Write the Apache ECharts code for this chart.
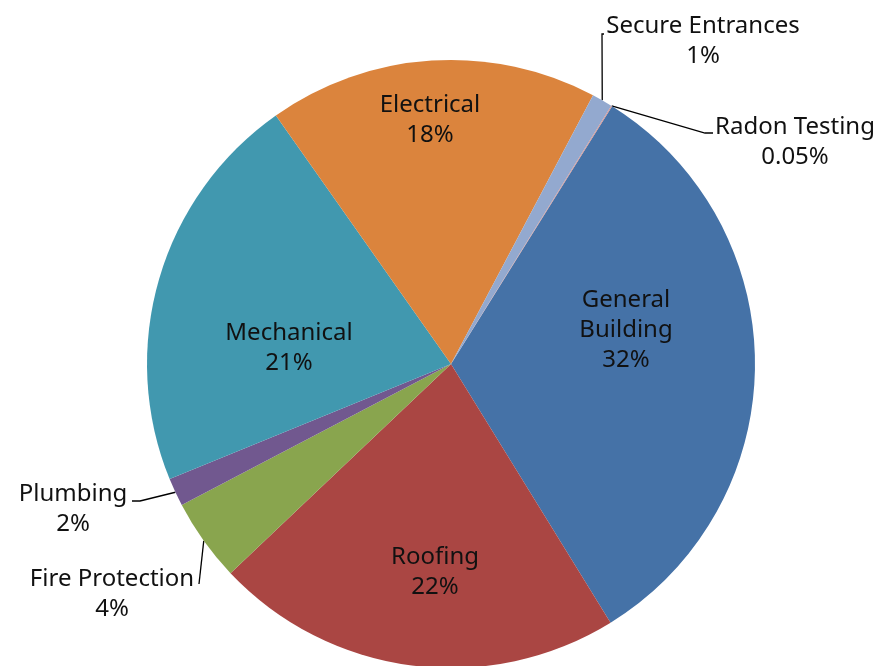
<!DOCTYPE html>
<html>
<head>
<meta charset="utf-8">
<script src="https://cdn.jsdelivr.net/npm/echarts@6/dist/echarts.min.js"></script>
<style>html,body{margin:0;padding:0;background:#fff}#c{width:879px;height:666px}</style>
</head>
<body>
<div id="c"></div>
<script>
const categories = ['General Building','Roofing','Fire Protection','Plumbing','Mechanical','Electrical','Secure Entrances','Radon Testing'];
const values = [32.3, 21.7, 4.4, 1.5, 21.4, 17.5, 1.1, 0.05];
const colors = ['#4572A7','#AA4643','#89A54E','#71588F','#4198AF','#DB843D','#93A9CF','#D19392'];
const outsideLabels = ['Fire Protection','Plumbing','Secure Entrances','Radon Testing'];

// label placement (layout only)
const labelPos = {
  'General Building': [626, 330],
  'Roofing': [435, 572],
  'Fire Protection': [112, 594],
  'Plumbing': [73, 509],
  'Mechanical': [289, 348],
  'Electrical': [430, 120],
  'Secure Entrances': [703, 41],
  'Radon Testing': [795, 142]
};
const lineEnds = {
  'Secure Entrances': [[602, 34], [604, 34]],
  'Radon Testing': [[705, 133], [713, 133]],
  'Plumbing': [[140, 501], [132, 501]],
  'Fire Protection': [[199, 584], [199, 584]]
};

const chart = echarts.init(document.getElementById('c'), null, {renderer: 'canvas'});
const data = categories.map((n, i) => {
  const out = outsideLabels.indexOf(n) >= 0;
  return {
    name: n,
    value: values[i],
    itemStyle: {color: colors[i]},
    label: {position: out ? 'outside' : 'inside'},
    labelLine: {show: out}
  };
});
chart.setOption({
  animation: false,
  series: [{
    type: 'pie',
    center: [451, 364],
    radius: 304,
    startAngle: 58,
    clockwise: true,
    avoidLabelOverlap: false,
    minShowLabelAngle: 0,
    emphasis: {disabled: true},
    itemStyle: {borderWidth: 0},
    label: {
      show: true,
      fontFamily: 'Noto Sans',
      fontSize: 24,
      lineHeight: 30,
      color: '#111',
      align: 'center',
      formatter: function (p) {
        const pct = p.percent < 1 ? p.percent.toFixed(2) : Math.round(p.percent);
        const nm = p.name === 'General Building' ? 'General\nBuilding' : p.name;
        return nm + '\n' + pct + '%';
      }
    },
    labelLine: {lineStyle: {color: '#000', width: 1.3}, length: 20, length2: 10},
    labelLayout: function (params) {
      const name = categories[params.dataIndex];
      const pos = labelPos[name];
      const res = {x: pos[0], y: pos[1], align: 'center', verticalAlign: 'middle'};
      if (lineEnds[name] && params.labelLinePoints) {
        const p0 = params.labelLinePoints[0];
        res.labelLinePoints = [p0, lineEnds[name][0], lineEnds[name][1]];
      }
      return res;
    },
    data: data
  }]
});
</script>
</body>
</html>
